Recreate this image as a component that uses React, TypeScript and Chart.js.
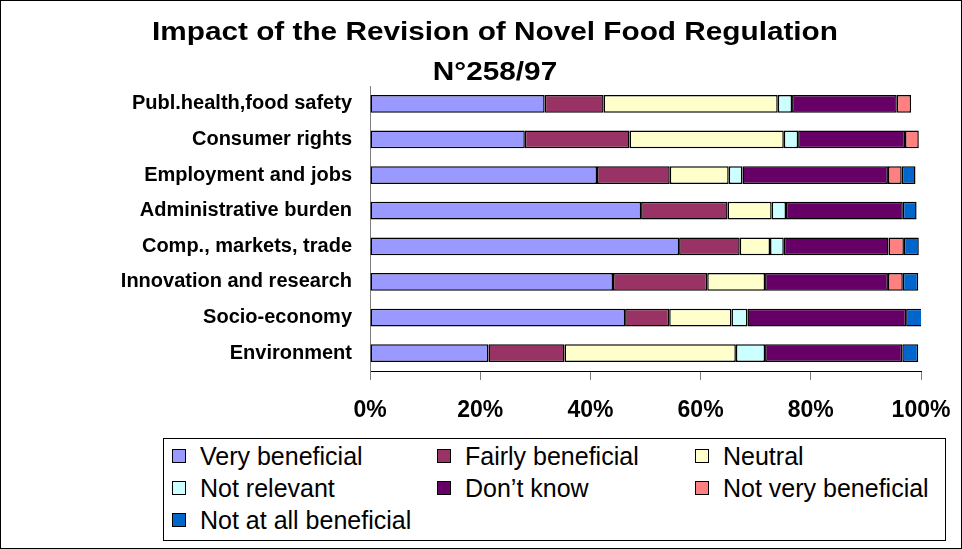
import { useEffect, useRef } from 'react';
import { Chart, registerables } from 'chart.js';

Chart.register(...registerables);

const titleLines = ['Impact of the Revision of Novel Food Regulation', 'N°258/97'];

const categories = [
  'Publ.health,food safety',
  'Consumer rights',
  'Employment and jobs',
  'Administrative burden',
  'Comp., markets, trade',
  'Innovation and research',
  'Socio-economy',
  'Environment',
];

const seriesNames = [
  'Very beneficial',
  'Fairly beneficial',
  'Neutral',
  'Not relevant',
  'Don\u2019t know',
  'Not very beneficial',
  'Not at all beneficial',
];

const veryBeneficial = [31.7, 28.1, 41.2, 49.2, 56.1, 44.1, 46.3, 21.5];
const fairlyBeneficial = [10.7, 19.0, 13.2, 15.7, 11.0, 17.1, 8.0, 13.8];
const neutral = [31.6, 28.0, 10.7, 8.0, 5.5, 10.5, 11.3, 31.1];
const notRelevant = [2.6, 2.6, 2.5, 2.6, 2.5, 0, 2.9, 5.3];
const dontKnow = [19.0, 19.4, 26.4, 21.2, 19.0, 22.3, 28.8, 24.9];
const notVeryBeneficial = [2.6, 2.5, 2.5, 0, 2.8, 2.7, 0, 0];
const notAtAllBeneficial = [0, 0, 2.5, 2.5, 2.7, 2.8, 3.0, 2.9];

const seriesValues = [
  veryBeneficial,
  fairlyBeneficial,
  neutral,
  notRelevant,
  dontKnow,
  notVeryBeneficial,
  notAtAllBeneficial,
];

const seriesColors = ['#9999FF', '#993366', '#FFFFCC', '#CCFFFF', '#660066', '#FF8080', '#0066CC'];

const xTicks = [0, 20, 40, 60, 80, 100];

const FONT = "'Liberation Sans', Arial, sans-serif";

const titlePlugin = {
  id: 'stretchedTitle',
  afterDraw(chart: any) {
    const ctx = chart.ctx;
    ctx.save();
    ctx.fillStyle = '#000000';
    ctx.font = `bold 25px ${FONT}`;
    ctx.textAlign = 'center';
    ctx.textBaseline = 'alphabetic';
    titleLines.forEach((line, i) => {
      ctx.save();
      ctx.translate(495, 40 + i * 40);
      ctx.scale(1.19, 1);
      ctx.fillText(line, 0, 0);
      ctx.restore();
    });
    ctx.restore();
  },
};

export default function App() {
  const ref = useRef<HTMLCanvasElement>(null);

  useEffect(() => {
    document.body.style.margin = '0';
    const chart = new Chart(ref.current!, {
      type: 'bar',
      data: {
        labels: categories,
        datasets: seriesNames.map((name, i) => ({
          label: name,
          data: seriesValues[i],
          backgroundColor: seriesColors[i],
          borderColor: '#000000',
          borderWidth: (ctx: any) => (ctx.raw ? 1.5 : 0),
          borderSkipped: false,
          barPercentage: 0.5,
          categoryPercentage: 1,
        })),
      },
      options: {
        indexAxis: 'y',
        animation: false,
        responsive: false,
        layout: { padding: { left: 0, right: 41, top: 86, bottom: 118 } },
        plugins: {
          legend: { display: false },
          tooltip: { enabled: false },
          title: { display: false },
        },
        scales: {
          x: {
            stacked: true,
            min: 0,
            max: 100,
            afterFit: (s: any) => {
              s.height = 60;
              s.paddingLeft = 0;
              s.paddingRight = 0;
            },
            afterBuildTicks: (s: any) => {
              s.ticks = xTicks.map((v) => ({ value: v }));
            },
            ticks: {
              callback: (v: any) => v + '%',
              color: '#000000',
              font: { family: FONT, size: 23, weight: 'bold' },
              padding: 17,
              maxRotation: 0,
            },
            grid: { drawOnChartArea: false, drawTicks: true, tickLength: 9, color: '#808080' },
            border: { display: true, color: '#000000', width: 1 },
          },
          y: {
            stacked: true,
            afterFit: (s: any) => {
              s.width = 370;
            },
            ticks: {
              color: '#000000',
              font: { family: FONT, size: 20, weight: 'bold' },
              padding: 10,
            },
            grid: { display: false },
            border: { display: true, color: '#808080', width: 1 },
          },
        },
      },
      plugins: [titlePlugin],
    } as any);
    return () => chart.destroy();
  }, []);

  const cols = [172, 437, 695];
  const rows = [456, 488, 520];

  return (
    <div style={{ position: 'relative', width: 962, height: 549, background: '#fff', fontFamily: FONT }}>
      <canvas ref={ref} width={962} height={549} style={{ position: 'absolute', left: 0, top: 0 }} />
      <div
        style={{
          position: 'absolute',
          left: 0,
          top: 0,
          width: 960,
          height: 547,
          border: '1px solid #000',
          pointerEvents: 'none',
        }}
      />
      <div
        style={{
          position: 'absolute',
          left: 163,
          top: 438,
          width: 781,
          height: 101,
          border: '1px solid #000',
          background: '#fff',
        }}
      />
      {seriesNames.map((name, i) => (
        <div
          key={name}
          style={{
            position: 'absolute',
            left: cols[i % 3],
            top: rows[Math.floor(i / 3)] - 16,
            height: 32,
            display: 'flex',
            alignItems: 'center',
            whiteSpace: 'nowrap',
            fontSize: 25,
            color: '#000',
          }}
        >
          <span
            style={{
              display: 'inline-block',
              width: 12,
              height: 12,
              border: '1px solid #000',
              background: seriesColors[i],
              marginRight: 14,
            }}
          />
          <span>{name}</span>
        </div>
      ))}
    </div>
  );
}
